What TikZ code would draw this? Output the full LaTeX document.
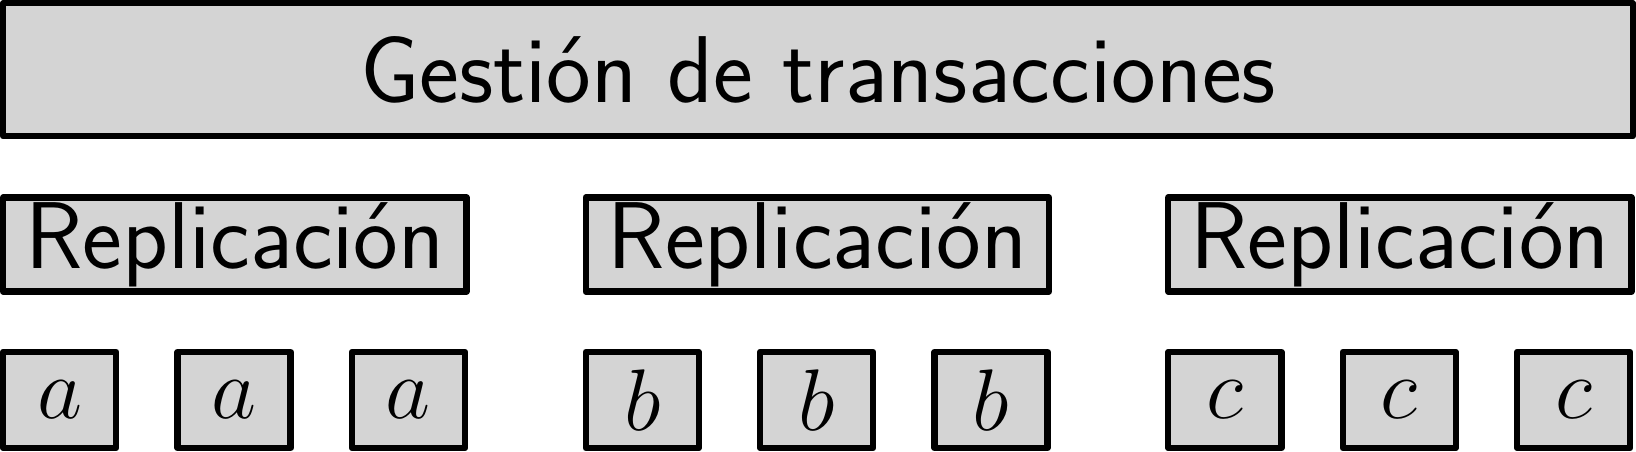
\documentclass[tikz,border=0pt]{standalone}
\usepackage{tikz}
\usetikzlibrary{
  positioning
}

\begin{document}
\begin{tikzpicture}[
      layer/.style={
         rectangle,
         line width=1.8pt,
         line join=round,
         draw=black,
         fill=black!17,
         inner sep=0pt,
         font=\sffamily\fontsize{27}{32}\selectfont
      },
      gestion box/.style={
         layer,
         minimum width=16.29cm,
         minimum height=1.33cm
      },
      replica box/.style={
         layer,
         minimum width=4.63cm,
         minimum height=0.94cm
      },
      item box/.style={
         layer,
         minimum width=1.13cm,
         minimum height=0.96cm
      }
    ]
    \node (gestion) [gestion box] at (0,0) {Gesti\'on de transacciones};
    % replication layer
    \node (rep1) [replica box, below=0.55cm of gestion.south west, anchor=north west] {Replicaci\'on};
    \node (rep2) [replica box, right=1.13cm of rep1] {Replicaci\'on};
    \node (rep3) [replica box, right=1.13cm of rep2] {Replicaci\'on};
    % copies
    \node (a1) [item box, below=0.54cm of rep1.south west, anchor=north west] {$a$};
    \node (a2) [item box, right=0.55cm of a1] {$a$};
    \node (a3) [item box, right=0.55cm of a2] {$a$};
    \node (b1) [item box, below=0.54cm of rep2.south west, anchor=north west] {$b$};
    \node (b2) [item box, right=0.55cm of b1] {$b$};
    \node (b3) [item box, right=0.55cm of b2] {$b$};
    \node (c1) [item box, below=0.54cm of rep3.south west, anchor=north west] {$c$};
    \node (c2) [item box, right=0.55cm of c1] {$c$};
    \node (c3) [item box, right=0.55cm of c2] {$c$};
\end{tikzpicture}
\end{document}
